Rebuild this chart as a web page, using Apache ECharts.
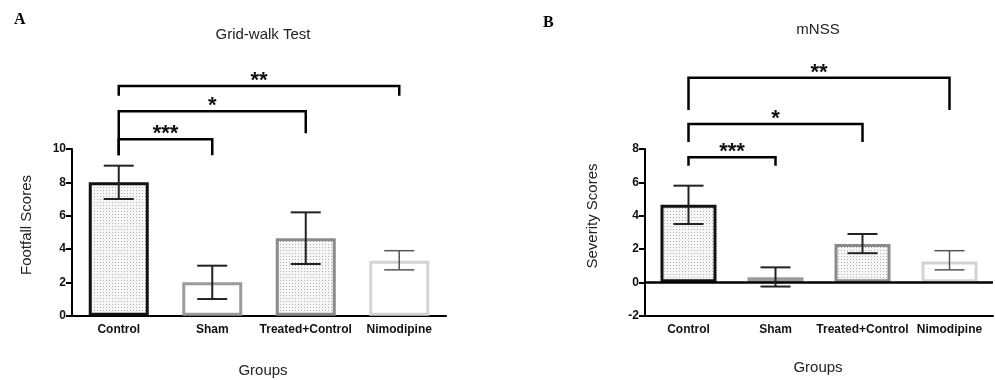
<!DOCTYPE html>
<html><head><meta charset="utf-8">
<script src="https://cdn.jsdelivr.net/npm/echarts@6/dist/echarts.min.js"></script>
<style>html,body{margin:0;padding:0;background:#fff}#c{width:995px;height:380px}</style>
</head><body><div id="c"></div>
<script>
// ---------- data ----------
const categories = ['Control', 'Sham', 'Treated+Control', 'Nimodipine'];
const gridWalkMean = [8, 2, 4.65, 3.3];
const gridWalkLow  = [7, 1, 3.1, 2.75];
const gridWalkHigh = [9, 3, 6.2, 3.9];
const mnssMean = [4.65, 0.3, 2.3, 1.25];
const mnssLow  = [3.5, -0.25, 1.75, 0.75];
const mnssHigh = [5.8, 0.9, 2.9, 1.9];
const gridWalkTicks = [0, 2, 4, 6, 8, 10];
const mnssTicks = [-2, 0, 2, 4, 6, 8];
// significance brackets: [fromIdx, toIdx, topValue, leftLegEnd, rightLegEnd]
const gridWalkSig = [[0, 3, 13.78, 13.2, 13.2], [0, 2, 12.27, 9.62, 10.95], [0, 1, 10.58, 9.62, 9.62]];
const gridWalkSigLabels = ['**', '*', '***'];
const mnssSig = [[0, 3, 12.27, 10.34, 10.34], [0, 2, 9.5, 8.42, 8.42], [0, 1, 7.5, 7.0, 7.0]];
const mnssSigLabels = ['**', '*', '***'];

// ---------- styles ----------
const SANS = '"Liberation Sans", Arial, sans-serif';
function dotPattern() {
  const c = document.createElement('canvas');
  c.width = 3; c.height = 3;
  const g = c.getContext('2d');
  g.fillStyle = '#f6f6f6'; g.fillRect(0, 0, 3, 3);
  g.fillStyle = '#b0b0b0'; g.fillRect(1, 1, 1, 1);
  return { image: c, repeat: 'repeat' };
}
const pat = dotPattern();
const barFills = [pat, '#ffffff', pat, '#ffffff'];
const barBorders = ['#111111', '#9b9b9b', '#8a8a8a', '#d4d4d4'];
const errColors = ['#222', '#222', '#222', '#555'];
const errWidths = [2, 2, 2, 1.5];

function barData(vals) {
  return vals.map((v, i) => ({
    value: v,
    itemStyle: { color: barFills[i], borderColor: barBorders[i], borderWidth: 3 }
  }));
}
function errData(lo, hi) { return categories.map((c, i) => [i, lo[i], hi[i]]); }

function errRender(params, api) {
  const i = params.dataIndex;
  const x = api.value(0);
  const lo = api.coord([x, api.value(1)]);
  const hi = api.coord([x, api.value(2)]);
  const hw = 15;
  const st = { stroke: errColors[i], lineWidth: errWidths[i] };
  return { type: 'group', children: [
    { type: 'line', shape: { x1: lo[0], y1: lo[1], x2: hi[0], y2: hi[1] }, style: st },
    { type: 'line', shape: { x1: hi[0] - hw, y1: hi[1], x2: hi[0] + hw, y2: hi[1] }, style: st },
    { type: 'line', shape: { x1: lo[0] - hw, y1: lo[1], x2: lo[0] + hw, y2: lo[1] }, style: st }
  ]};
}
function sigRender(labels) {
  return function (params, api) {
    const a = api.value(0), b = api.value(1);
    const pL = api.coord([a, api.value(2)]);
    const pR = api.coord([b, api.value(2)]);
    const yL = api.coord([a, api.value(3)])[1];
    const yR = api.coord([b, api.value(4)])[1];
    return { type: 'group', children: [
      { type: 'polyline', shape: { points: [[pL[0], yL], [pL[0], pL[1]], [pR[0], pR[1]], [pR[0], yR]] },
        style: { stroke: '#000', lineWidth: 2.5, fill: null } },
      { type: 'text', style: { text: labels[params.dataIndex], x: (pL[0] + pR[0]) / 2, y: pL[1] - 5,
        align: 'center', verticalAlign: 'middle', fontFamily: SANS, fontWeight: 'bold', fontSize: 22, fill: '#111' } }
    ]};
  };
}

const axisLineStyle = { color: '#000', width: 2 };
function xAxisCfg(grid) {
  return {
    type: 'category', gridIndex: grid, data: categories,
    axisLine: { onZero: false, lineStyle: axisLineStyle },
    axisTick: { alignWithLabel: true, length: 5, lineStyle: axisLineStyle },
    axisLabel: { interval: 0, margin: 8, color: '#111', fontFamily: SANS, fontWeight: 'bold', fontSize: 12 }
  };
}
function yAxisCfg(grid, ticks) {
  return {
    type: 'value', gridIndex: grid,
    min: ticks[0], max: ticks[ticks.length - 1], interval: ticks[1] - ticks[0],
    splitLine: { show: false },
    axisLine: { show: true, lineStyle: axisLineStyle },
    axisTick: { show: true, length: 6, lineStyle: axisLineStyle },
    axisLabel: { margin: 6, color: '#111', fontFamily: SANS, fontWeight: 'bold', fontSize: 12 }
  };
}

function txt(text, x, y, opts) {
  return Object.assign({
    type: 'text', x: x, y: y, silent: true,
    style: Object.assign({ text: text, x: 0, y: 0, align: 'center', verticalAlign: 'middle',
      fontFamily: SANS, fontSize: 15, fill: '#222' }, opts && opts.style)
  }, opts && opts.el);
}

const chart = echarts.init(document.getElementById('c'), null, { renderer: 'canvas' });
chart.setOption({
  animation: false,
  backgroundColor: '#fff',
  grid: [
    { left: 72, right: 549, top: 149, bottom: 64.3 },
    { left: 645, right: 2, top: 149, bottom: 64.3 }
  ],
  xAxis: [xAxisCfg(0), xAxisCfg(1)],
  yAxis: [yAxisCfg(0, gridWalkTicks), yAxisCfg(1, mnssTicks)],
  graphic: [
    txt('A', 14, 20, { style: { align: 'left', fontFamily: '"Liberation Serif", "Times New Roman", serif', fontWeight: 'bold', fontSize: 16, fill: '#000' } }),
    txt('B', 543, 23, { style: { align: 'left', fontFamily: '"Liberation Serif", "Times New Roman", serif', fontWeight: 'bold', fontSize: 16, fill: '#000' } }),
    txt('Grid-walk Test', 263, 35),
    txt('mNSS', 818, 30),
    txt('Footfall Scores', 27, 225, { el: { rotation: Math.PI / 2 } }),
    txt('Severity Scores', 593, 216, { el: { rotation: Math.PI / 2 } }),
    txt('Groups', 263, 371),
    txt('Groups', 818, 368)
  ],
  series: [
    { type: 'bar', xAxisIndex: 0, yAxisIndex: 0, barWidth: 60, data: barData(gridWalkMean), z: 2 },
    { type: 'custom', xAxisIndex: 0, yAxisIndex: 0, renderItem: errRender, data: errData(gridWalkLow, gridWalkHigh), z: 5, clip: false, encode: { x: 0, y: [1, 2] } },
    { type: 'custom', xAxisIndex: 0, yAxisIndex: 0, renderItem: sigRender(gridWalkSigLabels), data: gridWalkSig, z: 6, clip: false, encode: { x: 0, y: 2 } },
    { type: 'bar', xAxisIndex: 1, yAxisIndex: 1, barWidth: 56, data: barData(mnssMean), z: 2,
      markLine: { silent: true, symbol: 'none', label: { show: false },
        lineStyle: { color: '#000', width: 2.5, type: 'solid' }, data: [{ yAxis: 0 }] } },
    { type: 'custom', xAxisIndex: 1, yAxisIndex: 1, renderItem: errRender, data: errData(mnssLow, mnssHigh), z: 5, clip: false, encode: { x: 0, y: [1, 2] } },
    { type: 'custom', xAxisIndex: 1, yAxisIndex: 1, renderItem: sigRender(mnssSigLabels), data: mnssSig, z: 6, clip: false, encode: { x: 0, y: 2 } }
  ]
});
</script></body></html>
